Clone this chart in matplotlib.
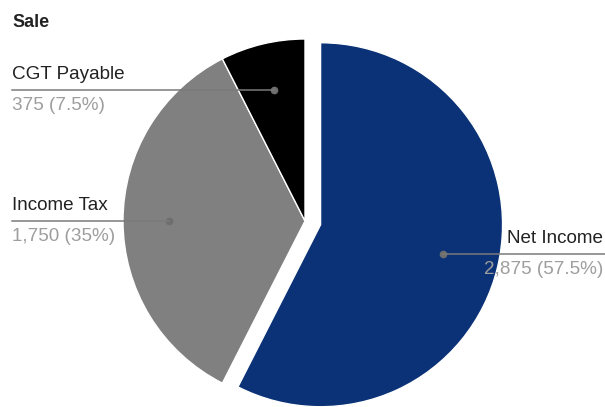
import numpy as np
import matplotlib
matplotlib.use("Agg")
import matplotlib.pyplot as plt

title = "Sale"
categories = ["Net Income", "Income Tax", "CGT Payable"]
values = [2875, 1750, 375]
colors = ["#0b3276", "#808080", "#000000"]

W, H = 605, 407
CX, CY, R = 305, 221, 182  # pixel centre / radius of the pie

plt.rcParams["font.family"] = ["Liberation Sans", "DejaVu Sans"]
fig = plt.figure(figsize=(W / 100, H / 100), dpi=100)
ax = fig.add_axes([0, 0, 1, 1])
ax.axis("off")

def px(x, y):
    return (x - CX) / R, (CY - y) / R

wedges, _ = ax.pie(values, colors=colors, startangle=90, counterclock=False,
                   explode=[0.088, 0, 0], radius=1,
                   wedgeprops=dict(edgecolor="white", linewidth=1.0))
ax.set_xlim((0 - CX) / R, (W - CX) / R)
ax.set_ylim(-(H - CY) / R, CY / R)
ax.set_aspect("auto")

total = sum(values)
dot_r = [0.69, 0.745, 0.74]
for w, cat, v, dr in zip(wedges, categories, values, dot_r):
    mid = np.deg2rad((w.theta1 + w.theta2) / 2)
    cx, cy = w.center
    dx, dy = cx + dr * np.cos(mid), cy + dr * np.sin(mid)
    pct = v / total * 100
    pct_s = f"{pct:.1f}".rstrip("0").rstrip(".")
    val_s = f"{v:,} ({pct_s}%)"
    ax.plot([dx], [dy], "o", color="#6e6e6e", ms=4.5, zorder=5)
    if dx > 0:
        xe = px(W, 0)[0]
        xt = px(603, 0)[0]
        ax.plot([dx, xe], [dy, dy], color="#7a7a7a", lw=1.1, zorder=5)
        ax.text(xt, dy + 0.06, cat, ha="right", va="baseline", fontsize=13.6,
                color="#222222", zorder=6)
        ax.text(xt, dy - 0.112, val_s, ha="right", va="baseline", fontsize=13.6,
                color="#9e9e9e", zorder=6)
    else:
        xl = px(12, 0)[0]
        ax.plot([xl, dx], [dy, dy], color="#7a7a7a", lw=1.1, zorder=5)
        ax.text(xl, dy + 0.06, cat, ha="left", va="baseline", fontsize=13.6,
                color="#222222", zorder=6)
        ax.text(xl, dy - 0.112, val_s, ha="left", va="baseline", fontsize=13.6,
                color="#9e9e9e", zorder=6)

fig.text(12 / W, 1 - 27 / H, title, ha="left", va="baseline", fontsize=13,
         fontweight="bold", color="#222222")

fig.savefig("out.png", dpi=100)
